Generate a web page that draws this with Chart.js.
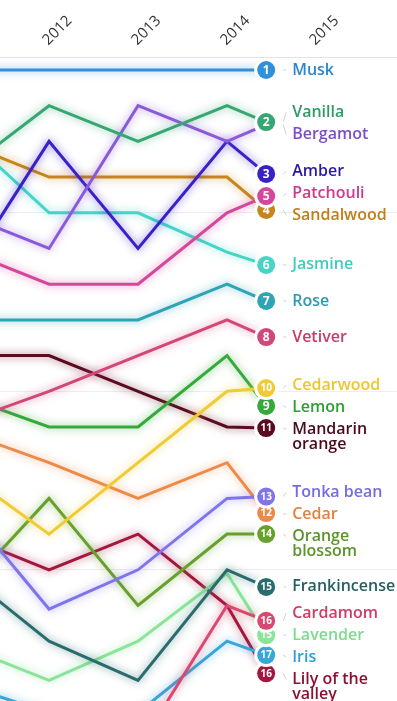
<!DOCTYPE html>
<html>
<head>
<meta charset="utf-8">
<script src="https://cdn.jsdelivr.net/npm/chart.js@4.4.0/dist/chart.umd.min.js"></script>
<style>
html,body{margin:0;padding:0;background:#fff;}
#wrap{width:397px;height:701px;position:relative;}
</style>
</head>
<body>
<div id="wrap"><canvas id="bump"></canvas></div>
<script>
// x of each frame; the last one is mid-way between 2014 and 2015
const frames = [2011, 2012, 2013, 2014, 2014.44];
const yearTicks = [2012, 2013, 2014, 2015];
const rankGrid = [5, 10, 15];

// rank per frame
const musk          = [1, 1, 1, 1, 1];
const vanilla       = [3.9, 2, 3, 2, 2.46];
const bergamot      = [5, 6, 2, 3, 2.53];
const amber         = [6.9, 3, 6, 3, 3.91];
const patchouli     = [6, 7, 7, 5, 4.53];
const sandalwood    = [3, 4, 4, 4, 4.92];
const jasmine       = [2.7, 5, 5, 6.1, 6.46];
const rose          = [8, 8, 8, 7, 7.47];
const vetiver       = [10.9, 10, 9, 8, 8.48];
const cedarwood     = [12.2, 14, 12, 10, 9.91];
const lemon         = [10.1, 11, 11, 9, 10.41];
const mandarin      = [9, 9, 10, 11, 11.03];
const tonkaBean     = [13.1, 16.1, 15, 13, 12.95];
const cedar         = [11.1, 12, 13, 12, 13.41];
const orangeBlossom = [15.7, 13, 16, 14, 14];
const frankincense  = [15, 17, 18.1, 15, 15.48];
const cardamom      = [20, 20, 20, 16, 16.43];
const lavender      = [17.1, 18.1, 17, 15.1, 16.83];
const iris          = [18.2, 19, 19, 17, 17.39];
const lily          = [14, 15, 14, 16, 17.9];

const names = ["Musk", "Vanilla", "Bergamot", "Amber", "Patchouli", "Sandalwood", "Jasmine", "Rose",
  "Vetiver", "Cedarwood", "Lemon", "Mandarin orange", "Tonka bean", "Cedar", "Orange blossom",
  "Frankincense", "Cardamom", "Lavender", "Iris", "Lily of the valley"];
const series = [musk, vanilla, bergamot, amber, patchouli, sandalwood, jasmine, rose, vetiver, cedarwood,
  lemon, mandarin, tonkaBean, cedar, orangeBlossom, frankincense, cardamom, lavender, iris, lily];
const colors = ["#3190da", "#37a673", "#8a5ad8", "#3a20c8", "#d4479a", "#c6861c", "#45d4c6", "#2fa4b6",
  "#d0487a", "#f0cb36", "#36a93b", "#5a0b20", "#7f74ea", "#ec8a48", "#67a02d",
  "#2a6c6e", "#d84870", "#8be49a", "#37a6d8", "#a3163e"];
// text is a shade darker than the lines
const textColors = ["#2c86cf", "#2f9a66", "#7c4dcc", "#2a1aa0", "#cc3a8c", "#bf7f16", "#3fcbbd", "#2a9bae",
  "#c83c6a", "#eec530", "#2f9e35", "#4a0a1a", "#766ce2", "#e6803c", "#5b942a",
  "#245f62", "#d23a64", "#80da90", "#2f9ed2", "#8e0f33"];

const labelFont = '600 16px "Open Sans"';
const lineGap = 22;   // between labels
const wrapGap = 15;   // between lines of one label

function wrap(ctx, text, maxW) {
  const words = text.split(" ");
  const lines = [];
  let cur = "";
  words.forEach(w => {
    const t = cur ? cur + " " + w : w;
    if (cur && ctx.measureText(t).width > maxW) { lines.push(cur); cur = w; }
    else cur = t;
  });
  lines.push(cur);
  return lines;
}

// stack a group of labels round the mean of their targets
function place(g) {
  let off = 0, sum = 0;
  g.members.forEach(m => {
    m.off = off; sum += m.cy - off;
    off += lineGap + (m.lines.length - 1) * wrapGap;
  });
  g.height = off;
  g.top = sum / g.members.length;
  g.members.forEach(m => m.ly = g.top + m.off);
}

function spread(items) {
  const sorted = [...items].sort((a, b) => a.cy - b.cy);
  const groups = [];
  sorted.forEach(it => {
    let g = {members: [it]};
    place(g);
    while (groups.length) {
      const prev = groups[groups.length - 1];
      if (prev.top + prev.height <= g.top) break;
      groups.pop();
      g = {members: prev.members.concat(g.members)};
      place(g);
    }
    groups.push(g);
  });
}

const glow = {
  id: "glow",
  beforeDatasetDraw(chart, args) {
    const ctx = chart.ctx;
    ctx.save();
    ctx.shadowColor = colors[args.index] + "aa";
    ctx.shadowBlur = 9;
  },
  afterDatasetDraw(chart) { chart.ctx.restore(); }
};

const endLabels = {
  id: "endLabels",
  afterDatasetsDraw(chart) {
    const {ctx, scales: {x, y}} = chart;
    const last = frames.length - 1;
    const cx = x.getPixelForValue(frames[last]);
    ctx.save();
    ctx.font = labelFont;
    const items = series.map((s, i) => ({i, cy: y.getPixelForValue(s[last]), lines: wrap(ctx, names[i], 110)}));

    // badges, lower ones first so upper ones sit on top
    for (let k = items.length - 1; k >= 0; k--) {
      const it = items[k];
      ctx.beginPath();
      ctx.arc(cx, it.cy, 12, 0, Math.PI * 2);
      ctx.fillStyle = "#fff";
      ctx.fill();
      ctx.beginPath();
      ctx.arc(cx, it.cy, 9, 0, Math.PI * 2);
      ctx.fillStyle = colors[it.i];
      ctx.fill();
      const num = String(Math.round(series[it.i][3]));
      ctx.fillStyle = "#fff";
      ctx.font = (num.length > 1 ? "bold 10px" : "bold 12px") + ' "Open Sans"';
      ctx.textAlign = "center";
      ctx.textBaseline = "middle";
      ctx.fillText(num, cx, it.cy + 0.5);
    }

    spread(items);
    ctx.font = labelFont;
    ctx.textAlign = "left";
    ctx.textBaseline = "middle";
    items.forEach(it => {
      ctx.strokeStyle = "#cfcfcf";
      ctx.lineWidth = 1;
      ctx.beginPath();
      ctx.moveTo(cx + 17, it.cy);
      ctx.lineTo(cx + 20, it.ly);
      ctx.stroke();
      ctx.fillStyle = textColors[it.i];
      it.lines.forEach((l, j) => ctx.fillText(l, cx + 26, it.ly + j * wrapGap));
    });
    ctx.restore();
  }
};

new Chart(document.getElementById("bump"), {
  type: "line",
  data: {
    datasets: series.map((s, i) => ({
      label: names[i],
      data: s.map((r, k) => ({x: frames[k], y: r})),
      borderColor: colors[i],
      borderWidth: 3,
      pointRadius: 0,
      tension: 0,
      fill: false
    }))
  },
  options: {
    responsive: true,
    maintainAspectRatio: false,
    animation: false,
    layout: {padding: 0},
    plugins: {legend: {display: false}, tooltip: {enabled: false}},
    scales: {
      x: {
        type: "linear",
        position: "top",
        min: 2011.449,
        max: 2015.91,
        afterBuildTicks: s => { s.ticks = yearTicks.map(v => ({value: v})); },
        afterFit: s => { s.height = 57; },
        grid: {display: false},
        border: {display: true, color: "#e4e4e4"},
        ticks: {
          minRotation: 45, maxRotation: 45, padding: 0, labelOffset: 9,
          color: "#333", font: {family: "Open Sans", size: 15},
          callback: v => String(v)
        }
      },
      y: {
        type: "linear",
        reverse: true,
        min: 0.636,
        max: 18.675,
        afterBuildTicks: s => { s.ticks = rankGrid.map(v => ({value: v})); },
        afterFit: s => { s.width = 0; },
        grid: {color: "#eeeeee", drawTicks: false},
        border: {display: false},
        ticks: {display: false}
      }
    }
  },
  plugins: [glow, endLabels]
});
</script>
</body>
</html>
